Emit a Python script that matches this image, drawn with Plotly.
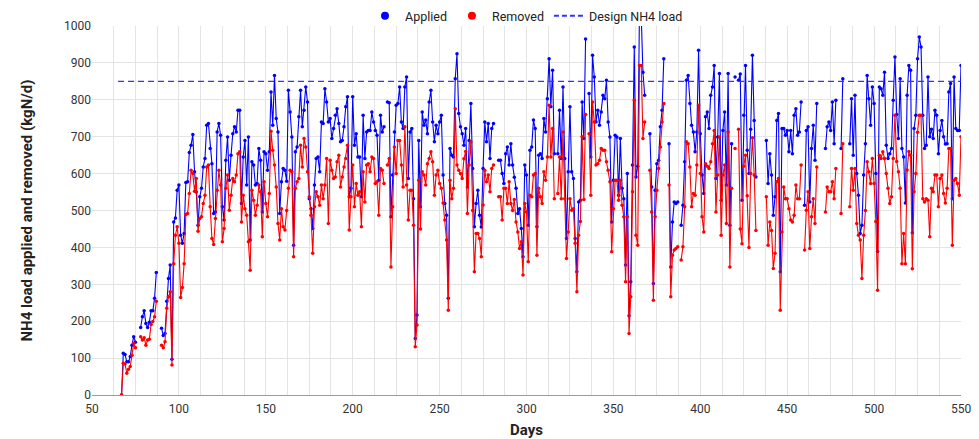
import plotly.graph_objects as go

N = None
seg_start_days = [67, 110, 161, 210, 259, 308, 358, 407, 455, 504]

applied_segs = [
    [0, 113, 110, 90, 90, 104, 135, 158, 143, N, N, 183, 212, 228, 194, 183, 197, 228, 228, 262, 332, N, N,
     181, 161, 167, 254, 316, 352, 97, 469, 480, 555, 569, 433, 411, 438, 576, 578, 657, 677, 706, 605],
    [550, 460, 537, 560, 618, 641, 731, 736, 668, 627, 492, 496, 713, 736, 704, 510, 474, 636, 699, 582, 650,
     708, 727, 713, 772, 772, 519, 645, 690, 569, 699, 420, 632, 623, 569, 573, 668, 636, 496, 659, 654, 609,
     659, 821, 731, 866, 749, 713, 492, 578, 614],
    [609, 579, 826, 767, 699, 406, 659, 672, 754, 826, 727, 772, 835, 794, 532, 505, 451, 569, 641, 645, 605,
     740, 736, 830, 794, 740, 749, 695, 722, 758, 776, 736, 686, 690, 727, 781, 808, 537, 560, 808, 677, 708,
     645, 645, 537, 758, 641, 713, 717],
    [717, 767, 740, 717, 704, 582, 758, 713, 727, N, 794, 792, 483, 596, 713, 785, 790, 835, 740, 722, 835,
     862, 587, 713, 722, 532, 153, 217, 690, 510, 767, 731, 745, 708, 794, 826, 740, 686, 731, 708, 740, 758,
     596, 519, 487, 262, 668, 650, 645],
    [857, 925, 763, 727, 708, 677, 722, 564, 690, 790, 614, 456, 519, 555, 487, 455, 614, 740, 686, 736, 641,
     722, 736, N, N, 636, 636, 600, 573, 654, 672, 623, 681, 623, 590, 560, 492, 505, 451, 375, 623, 596, 460,
     663, 672, 745, 722, 456, 650],
    [654, 641, 749, 713, 803, 911, 781, 880, 654, N, 654, 772, 641, 835, 641, 424, 605, 781, 605, 587, 424,
     334, 523, 528, 794, 695, 965, N, 817, 645, 921, 862, 740, 772, 731, 767, 812, 803, 853, 740, 699, 469,
     582, 704, 699, 541, 695, 560, 532, 352],
    [600, 215, 307, 623, 943, 591, 620, 1040, 1030, 875, 812, N, N, 708, 564, 302, 555, 627, 636, 727, 772,
     911, N, N, 681, 347, 469, 523, 519, 523, N, 460, 514, 632, 853, 866, 790, 731, 713, 659, 713, 934, 708,
     596, 546, 754, 767, 722, 812],
    [835, 893, 587, 699, 871, 528, 717, 767, 569, 871, 460, 681, N, 862, N, 853, 870, 528, 758, 893, 663, 600,
     720, 921, 744, 591, N, N, N, N, N, 690, 573, 654, 596, 487, 537, 744, 763, 334, 722, 722, 704, 717, 659,
     717, 654, 758],
    [776, 704, 713, 794, N, 514, 717, 727, 523, 668, 731, 636, 790, N, N, N, N, 668, 727, 740, 717, 794, 681,
     799, N, N, 668, 857, N, N, N, 681, 803, 650, 812, 600, 541, 438, 460, 596, 681, 866, 803, 731, 835, 790,
     600, 389, 835],
    [830, 812, 875, 677, 641, 654, 668, 799, 916, 760, 695, 857, 668, 645, 520, 812, 893, 880, 440, 722, 758,
     911, 970, 943, 758, 668, 677, 862, 700, 720, 695, 772, 758, 654, 717, 744, 700, 680, 681, 821, 844, 532,
     862, 722, 717, 717, 893],
]

removed_segs = [
    [0, 86, 84, 59, 70, 77, 108, 140, 128, N, N, 158, 149, 155, 135, 149, 151, 191, 199, 212, 254, N, N,
     135, 128, 144, 235, 266, 280, 81, 356, 433, 456, 411, 264, 291, 356, 489, 492, 546, 609, 600, 552],
    [587, 444, 478, 483, 519, 541, 618, 623, 510, 424, 408, 478, 555, 609, 569, 415, 451, 560, 596, 501, 541,
     587, 578, 596, 654, 659, 469, 541, 505, 487, 415, 338, 555, 528, 487, 514, 569, 551, 429, 578, 519, 483,
     546, 715, 663, 623, 564, 465, 420, 505, 456],
    [447, 500, 560, 609, 605, 375, 560, 578, 587, 677, 618, 695, 672, 605, 537, 487, 384, 510, 551, 537, 514,
     569, 532, 569, 641, 465, 636, 609, 587, 591, 632, 650, 564, 591, 618, 641, 677, 447, 537, 623, 510, 573,
     541, 551, 456, 605, 523, 623, 627],
    [605, 645, 641, 573, 578, 487, 614, 609, 573, N, 623, 641, 347, 510, 672, 600, 690, 690, 623, 564, 727,
     569, 474, 555, 555, 460, 131, 190, 582, 450, 605, 596, 569, 627, 641, 659, 632, 541, 596, 609, 573, 560,
     520, 474, 420, 230, 582, 532, 560],
    [776, 623, 609, 600, 587, 640, 660, 492, 623, 686, 500, 334, 438, 438, 424, 375, 515, 609, 578, 596, 551,
     614, 623, N, N, 537, 537, 474, 560, 560, 519, 578, 519, 500, 530, 469, 442, 397, 415, 325, 519, 496, 361,
     541, 537, 596, 600, 379, 560],
    [537, 519, 605, 582, 645, 785, 645, 722, 532, N, 546, 645, 532, 713, 532, 370, 442, 532, 501, 505, 411,
     280, 433, 470, 700, 530, 760, N, 708, 541, 794, 740, 623, 627, 636, 668, 663, 663, 632, 609, 578, 388,
     505, 582, 582, 528, 582, 514, 483, 307],
    [483, 167, 266, 551, 799, 433, 406, 893, 893, 695, 740, N, N, 609, 496, 257, 483, 555, 614, 672, 740,
     790, N, N, 569, 266, 379, 393, 397, 402, N, 366, 402, 510, 686, 681, 618, 510, 546, 541, 623, 785, 600,
     483, 442, 627, 620, 614, 632],
    [681, 717, 496, 596, 699, 433, 596, 623, 465, 713, 347, 560, N, 668, N, 720, 450, 410, 620, 650, 540, 400,
     600, 697, 596, 446, N, N, N, N, N, 537, 406, 469, 446, 343, 384, 578, 587, 230, 442, 564, 532, 532, 505,
     474, 469, 487],
    [569, 532, 532, 623, N, 393, 501, 551, 397, 483, 532, 465, 618, N, N, N, N, 496, 564, 551, 551, 578, 532,
     614, N, N, 492, 681, N, N, N, 510, 614, 555, 614, 465, 433, 420, 316, 433, 500, 632, 605, 573, 641, 573,
     470, 284, 650],
    [641, 659, 641, 600, 560, 519, 537, 641, 758, 633, 605, 560, 356, 438, 356, 610, 660, 650, 342, 551, 600,
     712, 758, 758, 532, 523, 532, 528, 429, 560, 551, 596, 596, 510, 587, 596, 546, 520, 560, 668, 668, 406,
     582, 587, 573, 541, 700],
]

design_days = [65, 550]
design_load = 850

x_ticks = list(range(50, 551, 50))
y_ticks = list(range(0, 1001, 100))


def expand(starts, segs):
    xs, ys = [], []
    for s, vals in zip(starts, segs):
        xs += list(range(s, s + len(vals)))
        ys += list(vals)
    return xs, ys


ax, ay = expand(seg_start_days, applied_segs)
rx, ry = expand(seg_start_days, removed_segs)

BLUE = "#0000ff"
RED = "#ff0000"
DESIGN = "#3333ff"

fig = go.Figure()
fig.add_trace(go.Scatter(x=ax, y=ay, mode="lines+markers", name="Applied", showlegend=False,
                         line=dict(color=BLUE, width=1.1), marker=dict(color=BLUE, size=3.5),
                         connectgaps=False))
fig.add_trace(go.Scatter(x=rx, y=ry, mode="lines+markers", name="Removed", showlegend=False,
                         line=dict(color=RED, width=1.1), marker=dict(color=RED, size=3.5),
                         connectgaps=False))
fig.add_trace(go.Scatter(x=design_days, y=[design_load] * len(design_days), mode="lines",
                         name="Design NH4 load", showlegend=False,
                         line=dict(color=DESIGN, width=1.4, dash="6px,4px")))
# legend entries
fig.add_trace(go.Scatter(x=[None], y=[None], mode="markers", name="Applied",
                         marker=dict(color=BLUE, size=8)))
fig.add_trace(go.Scatter(x=[None], y=[None], mode="markers", name="Removed",
                         marker=dict(color=RED, size=8)))
fig.add_trace(go.Scatter(x=[None], y=[None], mode="lines", name="Design NH4 load",
                         line=dict(color=DESIGN, width=2, dash="5px,3px")))

fig.update_layout(
    width=979, height=439,
    margin=dict(l=92, r=18, t=26, b=44, autoexpand=False),
    paper_bgcolor="white", plot_bgcolor="white",
    font=dict(family="Roboto, Arial, sans-serif", size=12, color="#222"),
    showlegend=True,
    legend=dict(orientation="h", x=0.5, xanchor="center", xref="paper",
                y=1 - 16 / 439, yanchor="middle", yref="container",
                font=dict(size=12.5, color="#222"), itemwidth=30, tracegroupgap=0,
                bgcolor="rgba(0,0,0,0)"),
    xaxis=dict(range=[50, 550], tickvals=x_ticks, showgrid=True, gridcolor="#e4e4e4", gridwidth=1,
               minor=dict(dtick=12.5, tick0=50, showgrid=True, gridcolor="#e4e4e4", gridwidth=1),
               zeroline=False, showline=True, linecolor="#9a9a9a", linewidth=1, ticks="",
               tickfont=dict(size=12, color="#333"), automargin=False, ticklabelstandoff=3,
               title=dict(text="<b>Days</b>", font=dict(size=15, color="#222"), standoff=11)),
    yaxis=dict(range=[0, 1000], tickvals=y_ticks, showgrid=True, gridcolor="#e4e4e4", gridwidth=1,
               zeroline=False, showline=False, ticks="", automargin=False,
               tickfont=dict(size=12, color="#333"),
               title=dict(text="<b>NH4 load applied and removed (kgN/d)</b>",
                          font=dict(size=15, color="#222"), standoff=27)),
)

fig.write_html("out.html")
